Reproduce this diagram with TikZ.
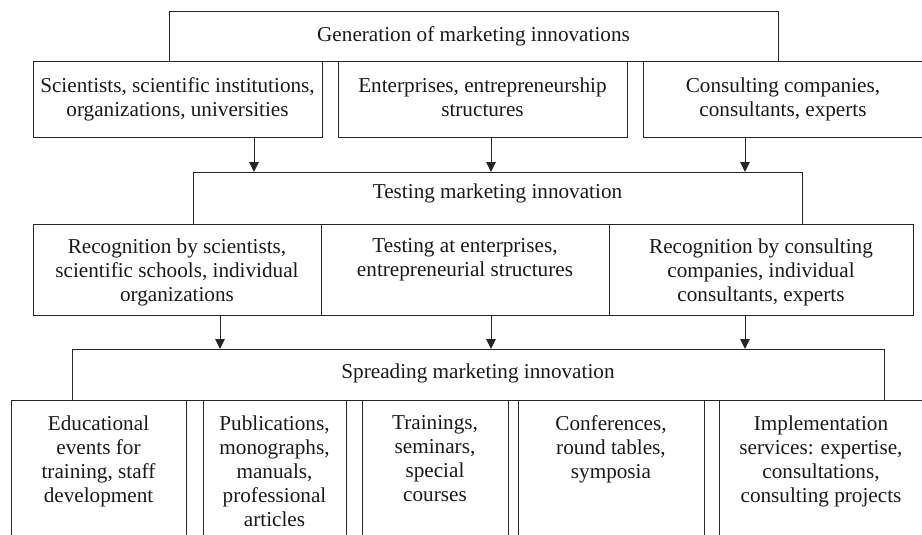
\documentclass[tikz,border=0pt]{standalone}
\usepackage{fontspec}
\setmainfont{Liberation Serif}
\usetikzlibrary{arrows.meta}
\begin{document}
\begin{tikzpicture}[x=1pt,y=-1pt,
  box/.style={draw=black!85, line width=1pt, anchor=north west, inner sep=0pt, outer sep=0pt},
  txt/.style={anchor=north, align=center, inner sep=0pt, text=black!90,
    font=\fontsize{21.2}{24}\selectfont},
  arr/.style={draw=black!85, line width=1pt, -{Triangle[length=10pt,width=9.5pt]}}]
\useasboundingbox (0,0) rectangle (922,535);
\clip (0,0) rectangle (922,535);
% row 1
\node[box, minimum width=609pt, minimum height=50pt] (gen) at (169,12) {};
\node[txt] (gent) at (473.5,26.5) {Generation of marketing innovations};
% row 2
\node[box, minimum width=289pt, minimum height=75pt] (A) at (33,62) {};
\node[box, minimum width=289pt, minimum height=75pt] (B) at (338,62) {};
\node[box, minimum width=281pt, minimum height=75pt] (C) at (643,62) {};
\node[txt] (At) at (177.5,77.5) {Scientists, scientific institutions,\\organizations, universities};
\node[txt] (Bt) at (482.5,77.5) {Enterprises, entrepreneurship\\structures};
\node[txt] (Ct) at (783,77.5) {Consulting companies,\\consultants, experts};
% row 3
\node[box, minimum width=609pt, minimum height=52pt] (test) at (193,172) {};
\node[txt] (testt) at (497.5,183.5) {Testing marketing innovation};
% row 4
\node[box, minimum width=288pt, minimum height=91pt] (D) at (33,224) {};
\node[box, minimum width=288pt, minimum height=91pt] (E) at (321,224) {};
\node[box, minimum width=304pt, minimum height=91pt] (F) at (609,224) {};
\node[txt] (Dt) at (177,238.2) {Recognition by scientists,\\scientific schools, individual\\organizations};
\node[txt] (Et) at (465,238.2) {Testing at enterprises,\\entrepreneurial structures};
\node[txt] (Ft) at (761,238.2) {Recognition by consulting\\companies, individual\\consultants, experts};
% row 5
\node[box, minimum width=812pt, minimum height=51pt] (spr) at (72,349) {};
\node[txt] (sprt) at (478,363.5) {Spreading marketing innovation};
% row 6
\node[box, minimum width=175pt, minimum height=145pt] (S1) at (11,400) {};
\node[box, minimum width=143pt, minimum height=145pt] (S2) at (203,400) {};
\node[box, minimum width=146pt, minimum height=145pt] (S3) at (362,400) {};
\node[box, minimum width=186pt, minimum height=145pt] (S4) at (518,400) {};
\node[box, minimum width=205pt, minimum height=145pt] (S5) at (719,400) {};
\node[txt] (S1t) at (98.5,415.5) {Educational\\events for\\training, staff\\development};
\node[txt] (S2t) at (274.5,415.5) {Publications,\\monographs,\\manuals,\\professional\\articles};
\node[txt] (S3t) at (435,415.5) {Trainings,\\seminars,\\special\\courses};
\node[txt] (S4t) at (611,415.5) {Conferences,\\round tables,\\symposia};
\node[txt] (S5t) at (821,415.5) {Implementation\\services: expertise,\\consultations,\\consulting projects};
% arrows
\coordinate (x1) at (254,0);
\coordinate (x2) at (491,0);
\coordinate (x3) at (745,0);
\coordinate (x4) at (220,0);
\draw[arr] (A.south -| x1) -- (test.north -| x1);
\draw[arr] (B.south -| x2) -- (test.north -| x2);
\draw[arr] (C.south -| x3) -- (test.north -| x3);
\draw[arr] (D.south -| x4) -- (spr.north -| x4);
\draw[arr] (E.south -| x2) -- (spr.north -| x2);
\draw[arr] (F.south -| x3) -- (spr.north -| x3);
\end{tikzpicture}
\end{document}
